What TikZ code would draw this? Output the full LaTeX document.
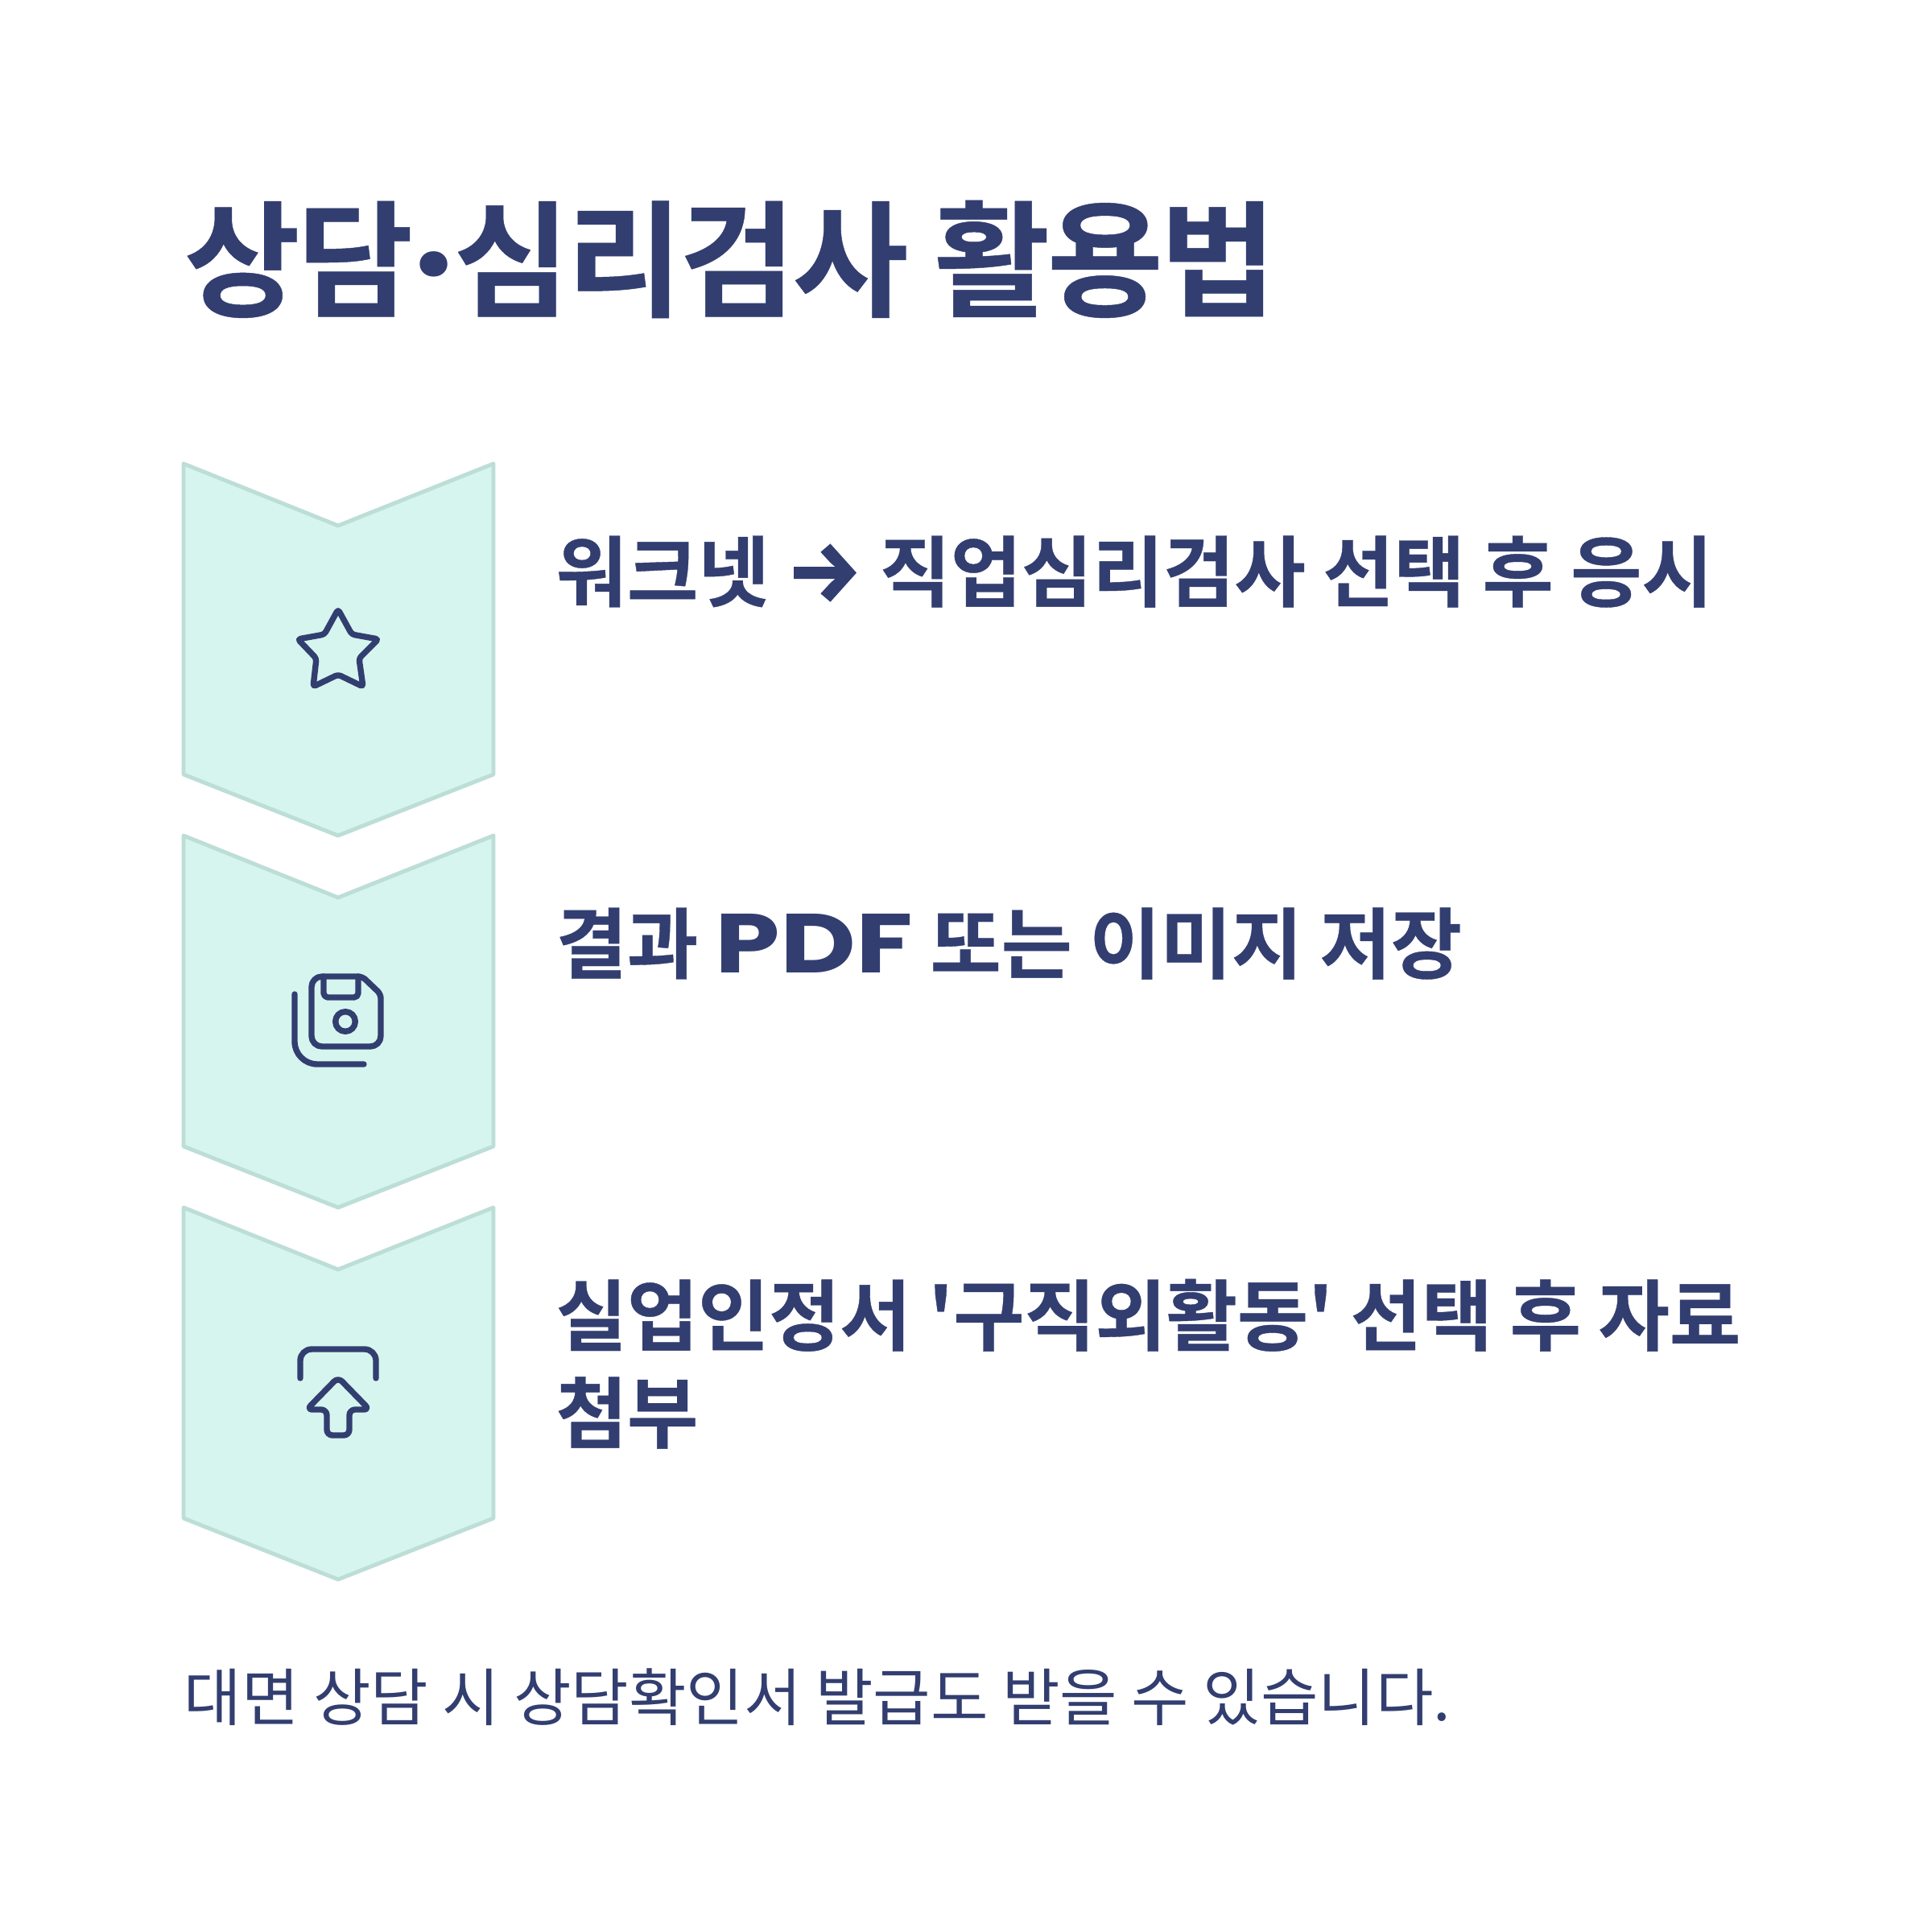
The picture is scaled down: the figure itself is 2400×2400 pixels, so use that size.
\documentclass[tikz,border=0pt]{standalone}
\usepackage{fontspec}
\newfontfamily\krfont{Noto Sans CJK KR}
\newfontfamily\krtight{Noto Sans CJK KR Bold}[LetterSpace=-2.3,FakeBold=0.3]
\newfontfamily\krsteps{Noto Sans CJK KR Bold}[LetterSpace=-0.2,FakeBold=0.4]
\newfontfamily\latinbold{Poppins Bold}[FakeStretch=1.24]
\newfontfamily\dotfont{Poppins Bold}
\newfontfamily\arrowfont{Fira Sans Bold}[Scale=1.09,FakeBold=1.5]
\definecolor{navy}{HTML}{323E70}
\definecolor{mint}{HTML}{D5F5EE}
\definecolor{mintline}{HTML}{BCDED7}
\tikzset{
  heading/.style={anchor=base west,inner sep=0pt,text=navy,font=\krtight\fontsize{44.5}{44.5}\selectfont},
  steptext/.style={anchor=base west,inner sep=0pt,text=navy,align=left,font=\krsteps\fontsize{27.3}{34.4}\selectfont},
  notetext/.style={anchor=base west,inner sep=0pt,text=navy,font=\krfont\fontsize{22.1}{22.1}\selectfont},
  chevron/.style={fill=mint,draw=mintline,line width=1.4pt,line join=round},
  icon/.style={draw=navy,line width=2.1pt,line cap=round,line join=round}
}
\begin{document}
\begin{tikzpicture}[x=0.01cm,y=-0.01cm]
   \useasboundingbox (0,0) rectangle (2400,2400);
   \fill[white] (0,0) rectangle (2400,2400);
   \node[heading] (title) at (228,381) {상담{\dotfont\fontsize{48}{48}\selectfont·}심리검사 활용법};
   % chevrons
   \foreach \i/\y in {1/576,2/1038,3/1500}
     \draw[chevron] (228,\y) -- (420,\y+77) -- (613,\y) -- (613,\y+386) -- (420,\y+462) -- (228,\y+386) -- cycle;
   \node[steptext] (step_1) at (690,746) {워크넷 {\arrowfont →} 직업심리검사 선택 후 응시};
   \node[steptext] (step_2) at (690,1208) {결과 {\latinbold\fontsize{29.6}{34.4}\selectfont PDF} 또는 이미지 저장};
   \node[steptext] (step_3) at (690,1791) {실업인정서 '구직외활동' 선택 후 자료\\첨부};
   \node[notetext] (note) at (228,2137) {대면 상담 시 상담확인서 발급도 받을 수 있습니다.};
   % star
   \draw[icon,rounded corners=1pt] (420,757) -- (437,788) -- (470,794) -- (446,818) -- (451,853) -- (420,838) -- (389,853) -- (393,818) -- (370,794) -- (403,788) -- cycle;
   % floppy
   \draw[icon,rounded corners=3.7pt] (420,1213) [rounded corners=1.5pt] -- (450,1213) -- (473,1235) [rounded corners=3.7pt] -- (473,1300) -- (387,1300) -- (387,1213) -- cycle;
   \draw[icon,rounded corners=1.5pt] (402,1213) -- (402,1239) -- (445,1239) -- (445,1213);
   \draw[icon] (429,1269) circle (12.3);
   \draw[icon,rounded corners=8pt] (366,1235) -- (366,1322) -- (452,1322);
   % upload
   \draw[icon,rounded corners=4pt] (373,1712) -- (373,1676) -- (467,1676) -- (467,1712);
   \draw[icon,rounded corners=2pt] (420,1711) -- (459,1751) -- (434,1751) -- (434,1783) -- (406,1783) -- (406,1751) -- (381,1751) -- cycle;
\end{tikzpicture}
\end{document}
